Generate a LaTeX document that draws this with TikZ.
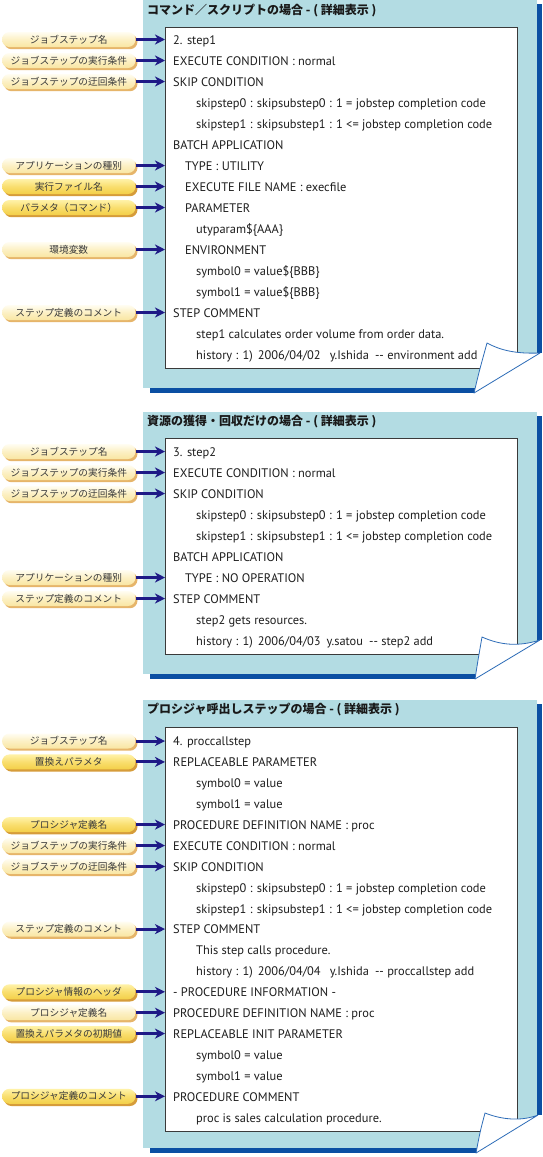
\documentclass[tikz,border=0pt]{standalone}
\usepackage{fontspec}
\setmainfont{PT Sans}
\newfontfamily\jp{Noto Sans CJK JP}
\usetikzlibrary{arrows.meta,shadows}
\definecolor{panelblue}{HTML}{B3DCE3}
\definecolor{stripeblue}{HTML}{0B4FA3}
\definecolor{curlblue}{HTML}{2E6DB8}
\definecolor{boxgray}{HTML}{3A3A3A}
\definecolor{arrownavy}{HTML}{1E1A86}
\definecolor{paletop}{HTML}{FFFDF2}
\definecolor{palemid}{HTML}{FCF0C4}
\definecolor{palebot}{HTML}{F9E6A2}
\definecolor{paleshadow}{HTML}{E6B56A}
\definecolor{strongtop}{HTML}{FFF2A8}
\definecolor{strongmid}{HTML}{F9DE6E}
\definecolor{strongbot}{HTML}{F3CF48}
\definecolor{strongshadow}{HTML}{D69C3A}
\definecolor{labeltext}{HTML}{3A3A3A}
\definecolor{bodytext}{HTML}{1E1E1E}
\tikzset{
  pill/.style={rounded corners=7.5pt, minimum width=133.5pt, minimum height=15pt,
    inner sep=0pt, font=\jp\fontsize{9.7}{10}\selectfont, text=labeltext},
  palepill/.style={pill, top color=paletop, bottom color=palebot, middle color=palemid,
    drop shadow={shadow xshift=2pt, shadow yshift=-2.2pt, fill=paleshadow, opacity=1}},
  strongpill/.style={pill, top color=strongtop, bottom color=strongbot, middle color=strongmid,
    drop shadow={shadow xshift=2pt, shadow yshift=-2.2pt, fill=strongshadow, opacity=1}},
  txt/.style={anchor=base west, inner sep=0pt, yshift=-4.3pt,
    font=\fontsize{12.4}{13}\selectfont, text=bodytext},
  paneltitle/.style={anchor=west, inner sep=0pt, font=\jp\bfseries\fontsize{12}{14}\selectfont, text=black!90},
  whitebox/.style={draw=boxgray, line width=0.9pt, fill=white, anchor=north west,
    inner sep=0pt, minimum width=352pt},
  linkarrow/.style={draw=arrownavy, line width=3pt,
    -{Stealth[length=10pt,width=10pt,inset=3pt]}},
  flap/.style={fill=white, draw=curlblue, line width=0.8pt, line join=round},
}
\newcommand\rowA[3]{\node[txt] (#1) at (173,#2) {#3};}
\newcommand\rowB[3]{\node[txt] (#1) at (185,#2) {#3};}
\newcommand\rowC[3]{\node[txt] (#1) at (196,#2) {#3};}
\newcommand\dd{-\kern0pt-}
\begin{document}
\begin{tikzpicture}[x=1pt,y=-1pt]
\useasboundingbox (0,0) rectangle (542,1157);
\fill[white] (0,0) rectangle (542,1157);

% ================= Panel 1 =================
\fill[stripeblue] (150,4) rectangle (541.5,393);
\fill[panelblue] (143,0) rectangle (537,388);
\node[paneltitle] (t1) at (147,10.5) {コマンド／スクリプトの場合 - ( 詳細表示 )};
\node[whitebox, minimum height=341pt] (w1) at (165,27) {};
\rowA{a1}{40}{2. step1}
\rowA{a2}{61}{EXECUTE CONDITION : normal}
\rowA{a3}{82}{SKIP CONDITION}
\rowC{a4}{103}{skipstep0 : skipsubstep0 : 1 = jobstep completion code}
\rowC{a5}{124}{skipstep1 : skipsubstep1 : 1 <= jobstep completion code}
\rowA{a6}{145}{BATCH APPLICATION}
\rowB{a7}{166}{TYPE : UTILITY}
\rowB{a8}{187}{EXECUTE FILE NAME : execfile}
\rowB{a9}{208}{PARAMETER}
\rowC{a10}{229}{utyparam\$\{AAA\}}
\rowB{a11}{250}{ENVIRONMENT}
\rowC{a12}{271}{symbol0 = value\$\{BBB\}}
\rowC{a13}{292}{symbol1 = value\$\{BBB\}}
\rowA{a14}{313}{STEP COMMENT}
\rowC{a15}{334}{step1 calculates order volume from order data.}
\rowC{a16}{355}{history : 1)\hspace{5pt}2006/04/02\hspace{9pt}y.Ishida\hspace{6pt}\dd{} environment add}
\fill[white] (474,393) -- (540,353) -- (542,353) -- (542,394) -- (474,394) -- cycle;
\filldraw[flap] (474,393) .. controls (479,372) .. (487,343) .. controls (500,350) and (515,354) .. (540,353) -- cycle;

\node[palepill] (la1) at (68.75,39.5) {ジョブステップ名};
\node[palepill] (la2) at (68.75,60.5) {ジョブステップの実行条件};
\node[palepill] (la3) at (68.75,81.5) {ジョブステップの迂回条件};
\node[palepill] (la4) at (68.75,165.5) {アプリケーションの種別};
\node[strongpill] (la5) at (68.75,186.5) {実行ファイル名};
\node[strongpill] (la6) at (68.75,207.5) {パラメタ（コマンド）};
\node[palepill] (la7) at (68.75,249.5) {環境変数};
\node[palepill] (la8) at (68.75,312.5) {ステップ定義のコメント};
\foreach \n in {la1,la2,la3,la4,la5,la6,la7,la8}
  \draw[linkarrow] (\n.east) -- (\n.east -| w1.west);

% ================= Panel 2 =================
\fill[stripeblue] (150,416) rectangle (541.5,679);
\fill[panelblue] (143,412) rectangle (537,674);
\node[paneltitle] (t2) at (147,422) {資源の獲得・回収だけの場合 - ( 詳細表示 )};
\node[whitebox, minimum height=216pt] (w2) at (165,438) {};
\rowA{b1}{452}{3. step2}
\rowA{b2}{473}{EXECUTE CONDITION : normal}
\rowA{b3}{494}{SKIP CONDITION}
\rowC{b4}{515}{skipstep0 : skipsubstep0 : 1 = jobstep completion code}
\rowC{b5}{536}{skipstep1 : skipsubstep1 : 1 <= jobstep completion code}
\rowA{b6}{557}{BATCH APPLICATION}
\rowB{b7}{578}{TYPE : NO OPERATION}
\rowA{b8}{599}{STEP COMMENT}
\rowC{b9}{620}{step2 gets resources.}
\rowC{b10}{641}{history : 1)\hspace{5pt}2006/04/03\hspace{6pt}y.satou\hspace{6pt}\dd{} step2 add}
\fill[white] (475,679) -- (540,640) -- (542,640) -- (542,680) -- (475,680) -- cycle;
\filldraw[flap] (475,679) .. controls (478,660) .. (482,637) .. controls (500,645) and (518,647) .. (540,640) -- cycle;

\node[palepill] (lb1) at (68.75,451.5) {ジョブステップ名};
\node[palepill] (lb2) at (68.75,472.5) {ジョブステップの実行条件};
\node[palepill] (lb3) at (68.75,493.5) {ジョブステップの迂回条件};
\node[palepill] (lb4) at (68.75,577.5) {アプリケーションの種別};
\node[palepill] (lb5) at (68.75,598.5) {ステップ定義のコメント};
\foreach \n in {lb1,lb2,lb3,lb4,lb5}
  \draw[linkarrow] (\n.east) -- (\n.east -| w2.west);

% ================= Panel 3 =================
\fill[stripeblue] (150,704) rectangle (541.5,1153);
\fill[panelblue] (143,700) rectangle (537,1148);
\node[paneltitle] (t3) at (147,710) {プロシジャ呼出しステップの場合 - ( 詳細表示 )};
\node[whitebox, minimum height=404pt] (w3) at (165,727) {};
\rowA{c1}{741.5}{4. proccallstep}
\rowA{c2}{762.4}{REPLACEABLE PARAMETER}
\rowC{c3}{783.3}{symbol0 = value}
\rowC{c4}{804.2}{symbol1 = value}
\rowA{c5}{825.1}{PROCEDURE DEFINITION NAME : proc}
\rowA{c6}{846}{EXECUTE CONDITION : normal}
\rowA{c7}{866.9}{SKIP CONDITION}
\rowC{c8}{887.8}{skipstep0 : skipsubstep0 : 1 = jobstep completion code}
\rowC{c9}{908.7}{skipstep1 : skipsubstep1 : 1 <= jobstep completion code}
\rowA{c10}{929.6}{STEP COMMENT}
\rowC{c11}{950.5}{This step calls procedure.}
\rowC{c12}{971.4}{history : 1)\hspace{5pt}2006/04/04\hspace{9pt}y.Ishida\hspace{6pt}\dd{} proccallstep add}
\rowA{c13}{992.3}{- PROCEDURE INFORMATION -}
\rowA{c14}{1013.2}{PROCEDURE DEFINITION NAME : proc}
\rowA{c15}{1034.1}{REPLACEABLE INIT PARAMETER}
\rowC{c16}{1055}{symbol0 = value}
\rowC{c17}{1075.9}{symbol1 = value}
\rowA{c18}{1096.8}{PROCEDURE COMMENT}
\rowC{c19}{1117.7}{proc is sales calculation procedure.}
\fill[white] (476,1153) -- (538,1115) -- (542,1115) -- (542,1157) -- (476,1157) -- cycle;
\filldraw[flap] (476,1153) .. controls (480,1132) .. (485,1113) .. controls (500,1119) and (520,1122) .. (538,1115) -- cycle;

\node[palepill] (lc1) at (68.75,741) {ジョブステップ名};
\node[strongpill] (lc2) at (68.75,761.9) {置換えパラメタ};
\node[strongpill] (lc3) at (68.75,824.6) {プロシジャ定義名};
\node[palepill] (lc4) at (68.75,845.5) {ジョブステップの実行条件};
\node[palepill] (lc5) at (68.75,866.4) {ジョブステップの迂回条件};
\node[palepill] (lc6) at (68.75,929.1) {ステップ定義のコメント};
\node[strongpill] (lc7) at (68.75,991.8) {プロシジャ情報のヘッダ};
\node[palepill] (lc8) at (68.75,1012.7) {プロシジャ定義名};
\node[strongpill] (lc9) at (68.75,1033.6) {置換えパラメタの初期値};
\node[strongpill] (lc10) at (68.75,1096.3) {プロシジャ定義のコメント};
\foreach \n in {lc1,lc2,lc3,lc4,lc5,lc6,lc7,lc8,lc9,lc10}
  \draw[linkarrow] (\n.east) -- (\n.east -| w3.west);
\end{tikzpicture}
\end{document}
